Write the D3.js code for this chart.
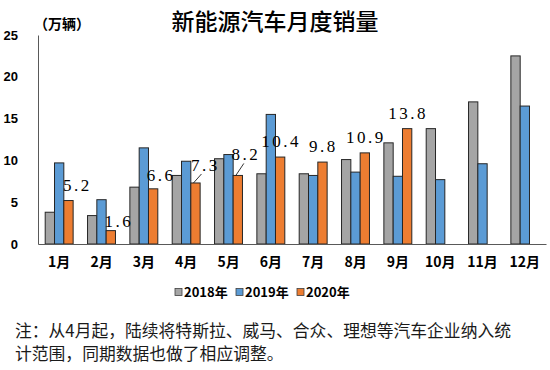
<!DOCTYPE html>
<html>
<head>
<meta charset="utf-8">
<script src="https://cdn.jsdelivr.net/npm/d3@7"></script>
<style>
  body { margin: 0; background: #fff; }
  svg { display: block; }
</style>
</head>
<body>
<div id="chart"></div>
<script>

// data, 万辆
const months = ['1月', '2月', '3月', '4月', '5月', '6月', '7月', '8月', '9月', '10月', '11月', '12月'];
const years = ['2018年', '2019年', '2020年'];
const sales2018 = [3.8, 3.4, 6.8, 8.2, 10.2, 8.4, 8.4, 10.1, 12.1, 13.8, 17.0, 22.5];
const sales2019 = [9.7, 5.3, 11.5, 9.9, 10.7, 15.5, 8.2, 8.6, 8.1, 7.7, 9.6, 16.5];
const sales2020 = [5.2, 1.6, 6.6, 7.3, 8.2, 10.4, 9.8, 10.9, 13.8];
const yTicks = [0, 5, 10, 15, 20, 25];

const colors = ['#a5a5a5', '#5b9bd5', '#ed7d31'];
const cjk = '"Noto Sans CJK SC", "Noto Sans", sans-serif';

const width = 550, height = 370;
const margin = { top: 35, right: 4, bottom: 126, left: 38 };

const svg = d3.select('#chart').append('svg')
    .attr('width', width)
    .attr('height', height);

// build rows: one per month
const rows = months.map((m, i) => ({
    month: m,
    values: [sales2018[i], sales2019[i], sales2020[i]]
}));

const x = d3.scaleBand()
    .domain(months)
    .range([margin.left, width - margin.right])
    .paddingInner(0.34)
    .paddingOuter(0.17);

const xSub = d3.scaleBand()
    .domain(years)
    .range([0, x.bandwidth()]);

const y = d3.scaleLinear()
    .domain([0, 25])
    .range([height - margin.bottom, margin.top]);

// title
svg.append('text')
    .attr('x', 275)
    .attr('y', 30)
    .attr('text-anchor', 'middle')
    .style('font-family', cjk)
    .style('font-size', '23px')
    .style('font-weight', 500)
    .text('新能源汽车月度销量');

svg.append('text')
    .attr('x', 34)
    .attr('y', 29)
    .style('font-family', cjk)
    .style('font-size', '14px')
    .style('font-weight', 700)
    .text('（万辆）');

// y axis
const yAxis = svg.append('g')
    .attr('transform', `translate(${margin.left},0)`)
    .call(d3.axisLeft(y).tickValues(yTicks).tickSize(0).tickPadding(20));

yAxis.select('.domain').attr('stroke', '#595959');
yAxis.selectAll('text')
    .style('font-family', '"Liberation Sans", Arial, sans-serif')
    .style('font-size', '13px')
    .style('font-weight', 700)
    .attr('fill', '#000');

// bars
const groups = svg.append('g')
    .selectAll('g')
    .data(rows)
    .enter()
    .append('g')
    .attr('transform', d => `translate(${x(d.month)},0)`);

groups.selectAll('rect')
    .data(d => d.values.map((v, k) => ({ year: years[k], value: v, k: k }))
        .filter(e => e.value !== undefined))
    .enter()
    .append('rect')
    .attr('x', d => xSub(d.year))
    .attr('y', d => y(d.value))
    .attr('width', xSub.bandwidth())
    .attr('height', d => y(0) - y(d.value))
    .attr('fill', d => colors[d.k])
    .attr('stroke', '#262626')
    .attr('stroke-width', 1);

// x axis
const xAxis = svg.append('g')
    .attr('transform', `translate(0,${y(0)})`)
    .call(d3.axisBottom(x).tickSize(0).tickPadding(13));

xAxis.select('.domain').attr('stroke', '#595959').attr('stroke-width', 1.2);
xAxis.selectAll('text')
    .style('font-family', cjk)
    .style('font-size', '14px')
    .style('font-weight', 700)
    .attr('fill', '#000');

// 2020 data labels, a few of them moved by hand like in the original
const labelNudge = { '1月': [8, 0], '2月': [7, 6], '3月': [7, 2], '4月': [9, -2], '5月': [7, -5] };
const leaderMonths = ['4月', '5月'];

const labelData = sales2020.map((v, i) => {
    const m = months[i];
    const cx = x(m) + xSub('2020年') + xSub.bandwidth() / 2;
    const nudge = labelNudge[m] || [0, 0];
    return { month: m, value: v, cx: cx, top: y(v), lx: cx + nudge[0], ly: y(v) - 10 + nudge[1] };
});

svg.append('g')
    .selectAll('line')
    .data(labelData.filter(d => leaderMonths.includes(d.month)))
    .enter()
    .append('line')
    .attr('x1', d => d.cx - 2)
    .attr('y1', d => d.top)
    .attr('x2', d => d.cx + 6)
    .attr('y2', d => d.ly + 3)
    .attr('stroke', '#000')
    .attr('stroke-width', 0.8);

svg.append('g')
    .selectAll('text')
    .data(labelData)
    .enter()
    .append('text')
    .attr('x', d => d.lx + 1)
    .attr('y', d => d.ly)
    .attr('text-anchor', 'middle')
    .style('font-family', '"Liberation Serif", "DejaVu Serif", serif')
    .style('font-size', '17px')
    .style('letter-spacing', '2.5px')
    .attr('fill', '#000')
    .text(d => d.value.toFixed(1));

// legend
const legend = svg.append('g')
    .attr('transform', 'translate(175,292)');

const legendX = d3.scalePoint()
    .domain(years)
    .range([0, 122]);

const item = legend.selectAll('g')
    .data(years)
    .enter()
    .append('g')
    .attr('transform', d => `translate(${legendX(d)},0)`);

item.append('rect')
    .attr('x', 0)
    .attr('y', -3.5)
    .attr('width', 7)
    .attr('height', 7)
    .attr('fill', (d, i) => colors[i])
    .attr('stroke', '#404040')
    .attr('stroke-width', 0.8);

item.append('text')
    .attr('x', 9)
    .attr('y', 5)
    .style('font-family', cjk)
    .style('font-size', '13px')
    .style('font-weight', 700)
    .text(d => d);

// footnote
const notes = ['注：从4月起，陆续将特斯拉、威马、合众、理想等汽车企业纳入统', '计范围，同期数据也做了相应调整。'];

svg.append('g')
    .selectAll('text')
    .data(notes)
    .enter()
    .append('text')
    .attr('x', 15)
    .attr('y', (d, i) => 337 + i * 23)
    .style('font-family', cjk)
    .style('font-size', '16.8px')
    .attr('fill', '#1a1a1a')
    .text(d => d);

</script>
</body>
</html>
